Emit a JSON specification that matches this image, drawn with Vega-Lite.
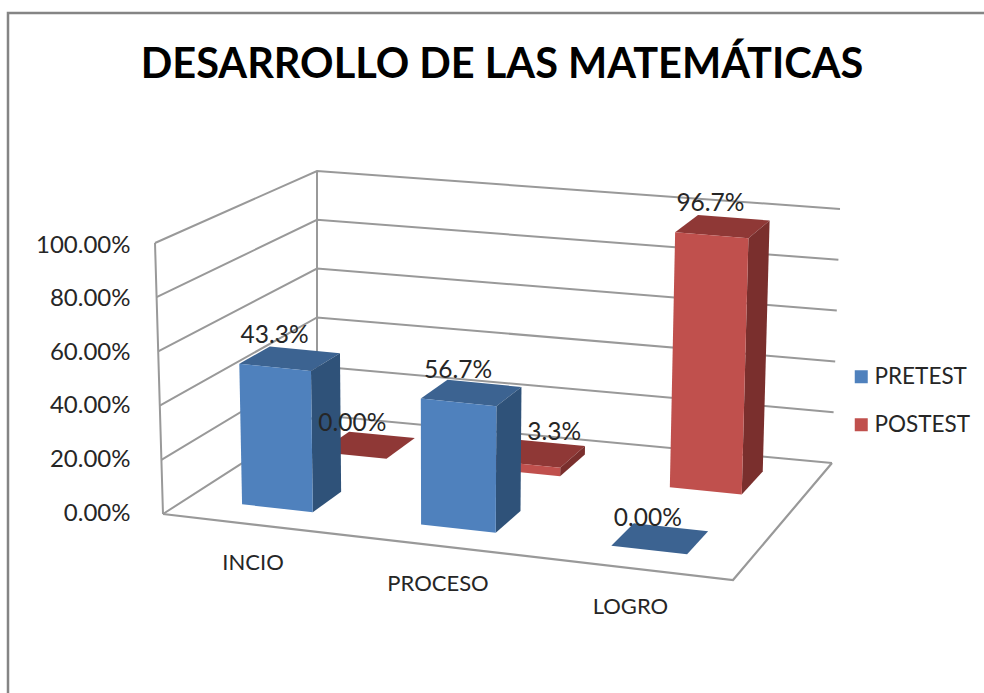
{"$schema":"https://vega.github.io/schema/vega-lite/v6.json","autosize":"none","padding":{"left":8,"top":13,"right":0,"bottom":0},"width":980,"height":685,"background":"white","view":{"stroke":"#858585","strokeWidth":2.5,"fill":"white"},"title":{"text":"DESARROLLO DE LAS MATEMÁTICAS","font":"Lato","fontWeight":"bold","fontSize":41.5,"color":"#000000","anchor":"middle","frame":"group","offset":0,"dy":73,"dx":4},"datasets":{"bars":[{"category":"INCIO","series":"POSTEST","value":0,"label":"0.00%"},{"category":"PROCESO","series":"POSTEST","value":3.3,"label":"3.3%"},{"category":"LOGRO","series":"POSTEST","value":98,"label":"96.7%"},{"category":"INCIO","series":"PRETEST","value":52.5,"label":"43.3%"},{"category":"PROCESO","series":"PRETEST","value":46.5,"label":"56.7%"},{"category":"LOGRO","series":"PRETEST","value":0,"label":"0.00%"}],"ticks":[{"tick":0},{"tick":0.2},{"tick":0.4},{"tick":0.6},{"tick":0.8},{"tick":1}]},"encoding":{"x":{"field":"px","type":"quantitative","scale":{"domain":[8,988],"nice":false,"zero":false},"axis":null},"y":{"field":"py","type":"quantitative","scale":{"domain":[-0.6903,1.8657],"nice":false,"zero":false},"axis":{"values":[0,0.2,0.4,0.6,0.8,1],"format":".2%","title":null,"grid":false,"domain":false,"ticks":false,"offset":-122,"labelPadding":0,"labelFont":"Lato","labelFontSize":24,"labelColor":"#262626"}}},"layer":[{"data":{"name":"ticks"},"transform":[{"calculate":"[0,1,2]","as":"corner"},{"flatten":["corner"]},{"calculate":"datum.corner==2?1:0","as":"u"},{"calculate":"datum.corner==0?0:1","as":"d"},{"calculate":"163+570*datum.u+154*datum.d-55*datum.u*datum.d+datum.tick*(-8+16*datum.u+8*datum.d-8*datum.u*datum.d)","as":"px"},{"calculate":"(513-(514+66*datum.u-99*datum.d-18*datum.u*datum.d-datum.tick*(271+10*datum.u-27*datum.d)))/268","as":"py"}],"mark":{"type":"line","stroke":"#999999","strokeWidth":2},"encoding":{"detail":{"field":"tick"},"order":{"field":"corner"}}},{"data":{"name":"ticks"},"transform":[{"calculate":"[0,1]","as":"corner"},{"flatten":["corner"]},{"calculate":"datum.corner","as":"d"},{"calculate":"163+154*datum.d+datum.tick*(-8+8*datum.d)","as":"px"},{"calculate":"(513-(514-99*datum.d-datum.tick*(271-27*datum.d)))/268","as":"py"}],"mark":{"type":"line","stroke":"#999999","strokeWidth":2},"encoding":{"detail":{"field":"corner"},"order":{"field":"tick"}}},{"data":{"name":"ticks"},"transform":[{"filter":"datum.tick==0"},{"calculate":"[0,1,2]","as":"corner"},{"flatten":["corner"]},{"calculate":"datum.corner==0?0:1","as":"u"},{"calculate":"datum.corner==2?1:0","as":"d"},{"calculate":"163+570*datum.u+154*datum.d-55*datum.u*datum.d","as":"px"},{"calculate":"(513-(514+66*datum.u-99*datum.d-18*datum.u*datum.d))/268","as":"py"}],"mark":{"type":"line","stroke":"#999999","strokeWidth":2.2},"encoding":{"order":{"field":"corner"}}},{"data":{"name":"bars"},"transform":[{"calculate":"indexof(['INCIO','PROCESO','LOGRO'],datum.category)","as":"i"},{"calculate":"datum.series=='PRETEST'?0.16:0.68","as":"d0"},{"calculate":"datum.d0+0.2","as":"d1"},{"calculate":"[0.097,0.416,0.755][datum.i]","as":"u0"},{"calculate":"datum.u0+[0.126,0.133,0.135][datum.i]","as":"u1"},{"calculate":"datum.value/100","as":"v"},{"calculate":"['top','side','front']","as":"face"},{"flatten":["face"]},{"calculate":"[0,1,2,3]","as":"corner"},{"flatten":["corner"]},{"calculate":"datum.face=='side'?datum.u1:((datum.corner==1||datum.corner==2)?datum.u1:datum.u0)","as":"u"},{"calculate":"datum.face=='front'?datum.d0:(datum.face=='side'?((datum.corner==1||datum.corner==2)?datum.d1:datum.d0):(datum.corner>=2?datum.d1:datum.d0))","as":"d"},{"calculate":"datum.face=='top'?datum.v:(datum.corner>=2?datum.v:0)","as":"h"},{"calculate":"163+570*datum.u+154*datum.d-55*datum.u*datum.d+datum.h*(-8+16*datum.u+8*datum.d-8*datum.u*datum.d)","as":"px"},{"calculate":"(513-(514+66*datum.u-99*datum.d-18*datum.u*datum.d-datum.h*(271+10*datum.u-27*datum.d)))/268","as":"py"},{"calculate":"datum.face=='front'?datum.series:datum.series+' '+datum.face","as":"key"},{"calculate":"datum.category+datum.series+datum.face","as":"id"}],"mark":{"type":"line","strokeWidth":0,"stroke":"transparent"},"encoding":{"order":{"field":"corner"},"detail":{"field":"id"},"fill":{"field":"key","type":"nominal","scale":{"domain":["PRETEST","POSTEST","PRETEST side","PRETEST top","POSTEST side","POSTEST top"],"range":["#4f81bd","#c0504d","#2f5279","#3c6391","#7a2f2d","#8f3836"]},"legend":{"values":["PRETEST","POSTEST"],"title":null,"orient":"none","legendX":842,"legendY":352.5,"symbolType":"square","symbolSize":169,"symbolStrokeWidth":0,"labelFont":"Lato","labelFontSize":22.5,"labelColor":"#262626","labelOffset":2,"rowPadding":25,"padding":0}}}},{"data":{"name":"bars"},"transform":[{"calculate":"indexof(['INCIO','PROCESO','LOGRO'],datum.category)","as":"i"},{"calculate":"datum.series=='PRETEST'?0.16:0.68","as":"d"},{"calculate":"[0.159,0.4815,0.82][datum.i]","as":"u"},{"calculate":"datum.value/100","as":"h"},{"calculate":"163+570*datum.u+154*datum.d-55*datum.u*datum.d+datum.h*(-8+16*datum.u+8*datum.d-8*datum.u*datum.d)+(datum.label=='3.3%'?30:0)","as":"px"},{"calculate":"(513-(514+66*datum.u-99*datum.d-18*datum.u*datum.d-datum.h*(271+10*datum.u-27*datum.d)))/268","as":"py"}],"mark":{"type":"text","font":"Lato","fontSize":24.5,"color":"#262626","dy":-31},"encoding":{"text":{"field":"label"}}},{"data":{"name":"bars"},"transform":[{"filter":"datum.series=='PRETEST'"},{"calculate":"indexof(['INCIO','PROCESO','LOGRO'],datum.category)","as":"i"},{"calculate":"[0.158,0.4825,0.82][datum.i]","as":"u"},{"calculate":"163+570*datum.u","as":"px"},{"calculate":"(513-(514+66*datum.u))/268","as":"py"}],"mark":{"type":"text","font":"Lato","fontSize":22,"color":"#262626","dy":38.5},"encoding":{"text":{"field":"category"}}}]}
